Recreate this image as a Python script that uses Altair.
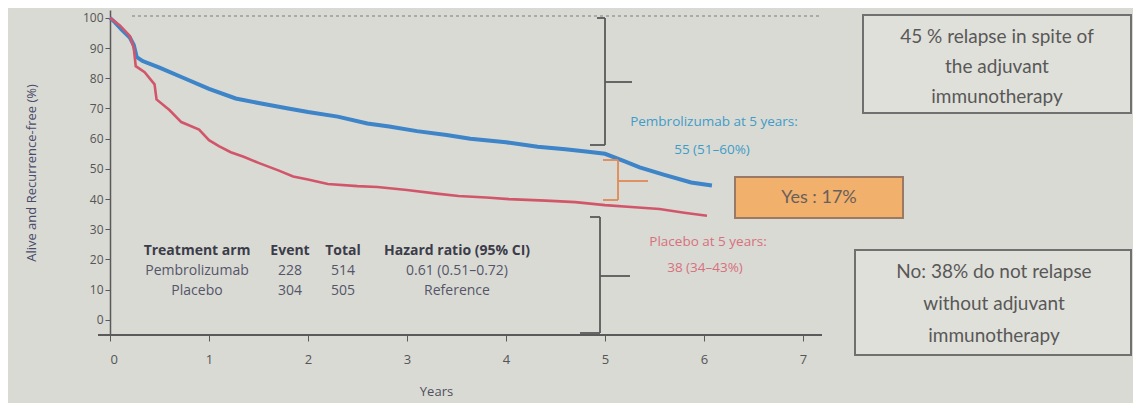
import altair as alt
import pandas as pd

# ---- data ----
pembro_years = [0, 0.05, 0.12, 0.2, 0.24, 0.27, 0.33, 0.5, 0.75, 1.0, 1.27, 1.5, 1.8, 2.0, 2.3,
                2.6, 2.82, 3.1, 3.4, 3.64, 4.0, 4.32, 4.6, 4.83, 5.0, 5.2, 5.35, 5.6, 5.87, 6.08]
pembro_surv = [100, 98.5, 96, 93.5, 91, 87, 85.7, 83.5, 80, 76.5, 73.3, 71.8, 70, 68.8, 67.3,
               65, 64, 62.5, 61.2, 60, 58.8, 57.3, 56.5, 55.7, 55, 52.5, 50.5, 48, 45.5, 44.5]
placebo_years = [0, 0.1, 0.2, 0.24, 0.26, 0.35, 0.45, 0.47, 0.6, 0.72, 0.9, 1.0, 1.1, 1.22, 1.35,
                 1.5, 1.7, 1.85, 2.0, 2.2, 2.5, 2.7, 3.0, 3.3, 3.52, 3.8, 4.03, 4.4, 4.7, 5.0,
                 5.3, 5.55, 5.8, 6.03]
placebo_surv = [100, 97.5, 94, 90, 84, 82, 78, 73, 69.5, 65.5, 63, 59.5, 57.5, 55.5, 54,
                52, 49.5, 47.5, 46.5, 45, 44.3, 44, 43, 41.8, 41, 40.5, 40, 39.5, 39, 38,
                37.3, 36.7, 35.5, 34.5]

x_ticks = [0, 1, 2, 3, 4, 5, 6, 7]
y_ticks = [0, 10, 20, 30, 40, 50, 60, 70, 80, 90, 100]

table_header = ["Treatment arm", "Event", "Total", "Hazard ratio (95% CI)"]
table_arms = ["Pembrolizumab", "Placebo"]
table_events = ["228", "304"]
table_totals = ["514", "505"]
table_hr = ["0.61 (0.51\u20130.72)", "Reference"]

pembro_note = ["Pembrolizumab at 5 years:", "55 (51\u201360%)"]
placebo_note = ["Placebo at 5 years:", "38 (34\u201343%)"]
box1_lines = ["45 % relapse in spite of", "the adjuvant", "immunotherapy"]
box2_text = "Yes : 17%"
box3_lines = ["No: 38% do not relapse", "without adjuvant", "immunotherapy"]

BLUE = "#3d84c8"
RED = "#d2566a"
GRAY = "#5a5a5a"
FONT = "Open Sans"
BFONT = "Lato"

W, H = 1023, 325
X_DOM = [0, W / 99.0]
Y_DOM = [-5, 102.6]

curves = pd.DataFrame({
    "year": pembro_years + placebo_years,
    "surv": pembro_surv + placebo_surv,
    "arm": ["Pembrolizumab"] * len(pembro_years) + ["Placebo"] * len(placebo_years),
})

xs = alt.Scale(domain=X_DOM, nice=False, zero=False)
ys = alt.Scale(domain=Y_DOM, nice=False, zero=False)

base = alt.Chart(curves)

lines = base.mark_line(interpolate="linear").encode(
    x=alt.X("year:Q", scale=xs, axis=alt.Axis(
        values=x_ticks, domain=False, grid=False, tickColor=GRAY, tickSize=6,
        labelColor="#555555", labelFontSize=13, labelFont=FONT, labelPadding=12,
        title="Years", titleFont=FONT, titleFontSize=13, titleColor="#505060",
        titleFontWeight="normal", titleX=326, titleY=56, titleBaseline="middle")),
    y=alt.Y("surv:Q", scale=ys, axis=alt.Axis(
        values=y_ticks, grid=False, domainColor=GRAY, domainWidth=1.5, tickColor=GRAY,
        tickSize=5, labelColor="#555555", labelFontSize=12, labelFont=FONT,
        title="Alive and Recurrence-free (%)", titleFont=FONT, titleFontSize=13,
        titleColor="#4a4a6a", titleFontWeight="normal", titlePadding=44)),
    color=alt.Color("arm:N", scale=alt.Scale(domain=["Pembrolizumab", "Placebo"],
                                             range=[BLUE, RED]), legend=None),
    strokeWidth=alt.StrokeWidth("arm:N", scale=alt.Scale(domain=["Pembrolizumab", "Placebo"],
                                                         range=[4, 2.6]), legend=None),
    detail="arm:N",
)

one = pd.DataFrame({"k": [0]})


def vrule(x1, x2, y1, y2, color=GRAY, width=1.8, dash=None):
    kw = dict(color=color, strokeWidth=width)
    if dash:
        kw["strokeDash"] = dash
    return alt.Chart(one).mark_rule(**kw).encode(
        x=alt.value(x1), x2=alt.value(x2), y=alt.value(y1), y2=alt.value(y2))


def txt(s, x, y, size, color, font=FONT, weight="normal", align="center"):
    return alt.Chart(one).mark_text(
        text=s, fontSize=size, color=color, font=font, fontWeight=weight,
        align=align, baseline="middle").encode(x=alt.value(x), y=alt.value(y))


def box(x1, x2, y1, y2, fill, stroke):
    return alt.Chart(one).mark_rect(fill=fill, stroke=stroke, strokeWidth=2).encode(
        x=alt.value(x1), x2=alt.value(x2), y=alt.value(y1), y2=alt.value(y2))


layers = [lines]

# x axis line and dotted 100% reference
layers.append(vrule(-12, 712, H, H, width=1.8))
layers.append(vrule(22, 710, 6, 6, color="#9a9a9a", width=1.5, dash=[3, 3]))

# brackets
OR = "#e08a55"
layers += [
    vrule(495, 495, 8, 135), vrule(487, 495, 8, 8), vrule(480, 495, 135, 135), vrule(495, 522, 72, 72),
    vrule(508, 508, 150, 190, color=OR), vrule(493, 508, 150, 150, color=OR),
    vrule(493, 508, 190, 190, color=OR), vrule(508, 538, 171, 171, color=OR),
    vrule(490, 490, 207, 323), vrule(480, 490, 207, 207), vrule(470, 490, 323, 323), vrule(490, 520, 266, 266),
]

# table
col_x = [87, 180, 233, 347]
for s, cx in zip(table_header, col_x):
    layers.append(txt(s, cx, 241, 14, "#3c3c4a", weight="bold"))
for i, row in enumerate(zip(table_arms, table_events, table_totals, table_hr)):
    for s, cx in zip(row, col_x):
        layers.append(txt(s, cx, 261 + 20 * i, 14, "#55556a"))

# curve notes
layers.append(txt(pembro_note[0], 604, 112, 13.5, "#3f9cc8"))
layers.append(txt(pembro_note[1], 602, 140, 13.5, "#3f9cc8"))
layers.append(txt(placebo_note[0], 598, 232, 13.5, "#d8707c"))
layers.append(txt(placebo_note[1], 595, 258, 13.5, "#d8707c"))

# right-hand boxes
layers.append(box(753, 1021, 5, 103, "#e0e0da", "#707070"))
for i, s in enumerate(box1_lines):
    layers.append(txt(s, 887, 27 + 30 * i, 19, "#585858", font=BFONT))
layers.append(box(625, 793, 167, 208, "#f1b06c", "#9a7a66"))
layers.append(txt(box2_text, 709, 188, 18, "#6a605a", font=BFONT))
layers.append(box(745, 1021, 240, 345, "#e0e0da", "#707070"))
for i, s in enumerate(box3_lines):
    layers.append(txt(s, 884, 262 + 32 * i, 19, "#585858", font=BFONT))

chart = alt.layer(*layers).properties(
    width=W, height=H,
    background="#d9dad4",
    padding={"left": 102, "top": 2, "right": 0, "bottom": 68},
    autosize=alt.AutoSizeParams(type="none"),
).configure_view(stroke=None)

chart.save("out.html", embed_options={"renderer": "svg", "actions": False})
